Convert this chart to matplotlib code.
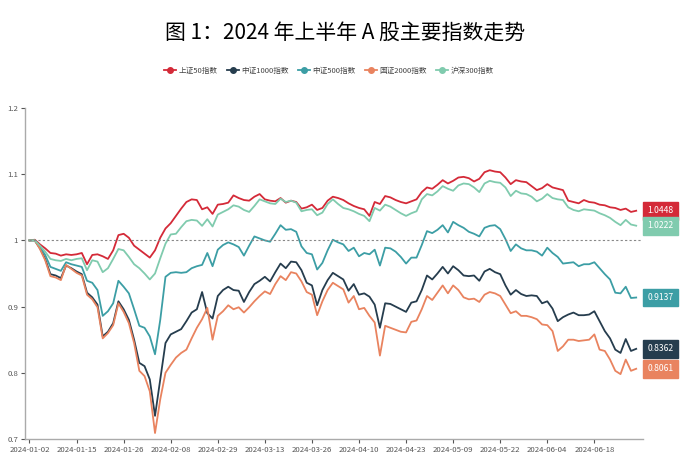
import numpy as np
import pandas as pd
import matplotlib
matplotlib.use("Agg")
import matplotlib.pyplot as plt
from matplotlib.lines import Line2D

plt.rcParams['font.family'] = ['Liberation Sans Narrow', 'Noto Sans CJK SC', 'DejaVu Sans']

# trading days, 2024 H1
holidays = pd.to_datetime(["2024-02-09", "2024-02-12", "2024-02-13", "2024-02-14", "2024-02-15",
                           "2024-02-16", "2024-04-04", "2024-04-05", "2024-05-01", "2024-05-02",
                           "2024-05-03", "2024-06-10"])
dates = [d for d in pd.bdate_range("2024-01-02", "2024-06-28") if d not in holidays]
tick_labels = ["2024-01-02", "2024-01-15", "2024-01-26", "2024-02-08", "2024-02-29", "2024-03-13",
               "2024-03-26", "2024-04-10", "2024-04-23", "2024-05-09", "2024-05-22", "2024-06-04",
               "2024-06-18"]

names = ["上证50指数", "中证1000指数", "中证500指数", "国证2000指数", "沪深300指数"]
colors = ["#d42a38", "#263d4e", "#3c9ea5", "#e9835f", "#80cbae"]

sse50 = [1.000, 1.001, .994, .988, .981, .980, .977, .979, .978, .979,
         .981, .964, .978, .979, .976, .972, .985, 1.008, 1.010, 1.004,
         .992, .986, .980, .974, .985, 1.004, 1.018, 1.026, 1.037, 1.048,
         1.058, 1.062, 1.061, 1.047, 1.050, 1.040, 1.054, 1.055, 1.057, 1.068,
         1.064, 1.061, 1.060, 1.066, 1.070, 1.062, 1.060, 1.059, 1.064, 1.057,
         1.060, 1.058, 1.048, 1.050, 1.054, 1.046, 1.049, 1.060, 1.066, 1.064,
         1.061, 1.056, 1.052, 1.049, 1.047, 1.037, 1.058, 1.055, 1.067, 1.065,
         1.061, 1.058, 1.056, 1.059, 1.062, 1.073, 1.080, 1.078, 1.084, 1.091,
         1.086, 1.090, 1.095, 1.096, 1.094, 1.089, 1.093, 1.103, 1.106, 1.104,
         1.103, 1.095, 1.085, 1.091, 1.089, 1.088, 1.082, 1.076, 1.079, 1.085,
         1.080, 1.078, 1.076, 1.060, 1.058, 1.056, 1.061, 1.058, 1.057, 1.054,
         1.053, 1.050, 1.049, 1.046, 1.048, 1.043, 1.0448]

csi1000 = [1.000, 1.000, .988, .972, .949, .947, .943, .962, .958, .953,
           .949, .921, .914, .903, .855, .862, .875, .908, .896, .880,
           .850, .815, .810, .790, .735, .790, .845, .858, .862, .866,
           .878, .891, .896, .922, .890, .882, .916, .925, .930, .925,
           .924, .907, .922, .934, .939, .945, .938, .952, .965, .958,
           .968, .967, .955, .936, .932, .902, .925, .940, .951, .946,
           .941, .924, .934, .918, .920, .915, .903, .868, .905, .904,
           .900, .896, .892, .906, .908, .925, .947, .941, .950, .960,
           .950, .961, .955, .947, .946, .947, .939, .953, .957, .952,
           .949, .932, .918, .925, .919, .916, .917, .916, .905, .908,
           .897, .878, .884, .888, .891, .887, .887, .888, .893, .878,
           .863, .852, .835, .830, .851, .833, .8362]

csi500 = [1.000, 1.000, .990, .978, .960, .957, .954, .967, .964, .962,
          .960, .939, .936, .925, .886, .893, .905, .939, .930, .920,
          .896, .871, .868, .855, .828, .880, .945, .951, .952, .951,
          .952, .958, .961, .963, .981, .961, .986, .993, .997, .994,
          .990, .977, .992, 1.006, 1.003, 1.000, .998, 1.010, 1.023, 1.016,
          1.017, 1.013, .991, .981, .979, .956, .966, .985, 1.001, .997,
          .994, .984, .989, .976, .981, .979, .986, .962, .989, .988,
          .983, .975, .965, .974, .974, .993, 1.014, 1.011, 1.016, 1.023,
          1.012, 1.028, 1.023, 1.019, 1.013, 1.010, 1.006, 1.019, 1.022, 1.023,
          1.017, 1.002, .984, .994, .988, .985, .985, .983, .977, .989,
          .981, .975, .965, .966, .967, .961, .964, .964, .967, .958,
          .949, .941, .921, .920, .930, .913, .9137]

cni2000 = [1.000, 1.000, .987, .970, .946, .944, .940, .963, .957, .951,
           .947, .918, .911, .899, .852, .860, .872, .905, .892, .875,
           .845, .803, .795, .772, .709, .760, .800, .812, .823, .830,
           .835, .852, .868, .881, .898, .850, .886, .893, .902, .896,
           .899, .891, .899, .908, .916, .923, .919, .934, .946, .940,
           .952, .950, .938, .922, .918, .887, .908, .925, .936, .931,
           .926, .906, .916, .896, .898, .886, .876, .826, .871, .868,
           .865, .862, .861, .877, .879, .896, .916, .910, .921, .932,
           .920, .932, .925, .914, .911, .912, .907, .918, .922, .920,
           .916, .903, .890, .893, .886, .886, .884, .881, .873, .872,
           .863, .833, .840, .850, .850, .848, .849, .850, .858, .835,
           .833, .820, .803, .798, .820, .803, .8061]

hs300 = [1.000, 1.000, .992, .983, .972, .970, .969, .972, .970, .972,
         .973, .955, .970, .968, .952, .958, .972, .987, .985, .975,
         .964, .958, .950, .941, .950, .973, .995, 1.009, 1.010, 1.020,
         1.029, 1.031, 1.030, 1.022, 1.032, 1.021, 1.039, 1.043, 1.047, 1.053,
         1.051, 1.046, 1.043, 1.052, 1.062, 1.059, 1.056, 1.055, 1.063, 1.058,
         1.060, 1.057, 1.044, 1.046, 1.047, 1.038, 1.042, 1.055, 1.062, 1.055,
         1.049, 1.047, 1.044, 1.040, 1.037, 1.029, 1.049, 1.045, 1.054, 1.051,
         1.046, 1.041, 1.037, 1.041, 1.044, 1.062, 1.070, 1.068, 1.074, 1.082,
         1.078, 1.075, 1.083, 1.086, 1.085, 1.080, 1.073, 1.086, 1.090, 1.088,
         1.087, 1.080, 1.067, 1.075, 1.071, 1.070, 1.066, 1.059, 1.063, 1.070,
         1.064, 1.062, 1.061, 1.050, 1.046, 1.044, 1.047, 1.046, 1.045, 1.041,
         1.038, 1.034, 1.028, 1.023, 1.031, 1.024, 1.0222]

series = [sse50, csi1000, csi500, cni2000, hs300]

fig = plt.figure(figsize=(7, 4.73), dpi=100)
ax = fig.add_axes([25 / 700, 1 - 439 / 473, 618 / 700, 331 / 473])

x = np.arange(len(dates))
for name, vals, c in zip(names, series, colors):
    ax.plot(x, vals, color=c, linewidth=1.3, solid_joinstyle="round")

ax.plot([0, 117], [1, 1], color="#888888", linestyle=(0, (2, 2)), linewidth=0.8)

ax.set_xlim(-0.86, 117.3)
ax.set_ylim(0.7, 1.2)
ax.set_yticks([0.7, 0.8, 0.9, 1.0, 1.1, 1.2])
ax.set_yticklabels(["0.7", "0.8", "0.9", "1", "1.1", "1.2"])
ax.set_xticks(np.arange(0, len(dates), 9))
ax.set_xticklabels(tick_labels)
ax.tick_params(labelsize=5.6, colors="#555555", length=3, width=0.8, pad=2)
for s in ["top", "right"]:
    ax.spines[s].set_visible(False)
for s in ["left", "bottom"]:
    ax.spines[s].set_color("#aaaaaa")
    ax.spines[s].set_linewidth(1)

# end-of-line value tags
for vals, c in zip(series, colors):
    ax.text(120.7, vals[-1], f"{vals[-1]:.4f}", color="white", fontsize=6.2,
            ha="center", va="center", clip_on=False,
            bbox=dict(boxstyle="square,pad=0.5", facecolor=c, edgecolor=c))

fig.text(0.493, 0.93, "图 1：2024 年上半年 A 股主要指数走势", ha="center", va="center",
         fontsize=15, family=["Noto Sans CJK SC", "DejaVu Sans"])

handles = [Line2D([], [], color=c, linewidth=1.3, marker="o", markersize=4) for c in colors]
leg = fig.legend(handles, names, loc="center", bbox_to_anchor=(0.47, 0.85), ncol=5,
                 frameon=False, handlelength=1.6, columnspacing=1.2, handletextpad=0.3,
                 prop={"family": ["Noto Sans CJK SC", "DejaVu Sans"], "size": 5.5})
for t in leg.get_texts():
    t.set_color("#444444")

fig.savefig("out.png", dpi=100)
